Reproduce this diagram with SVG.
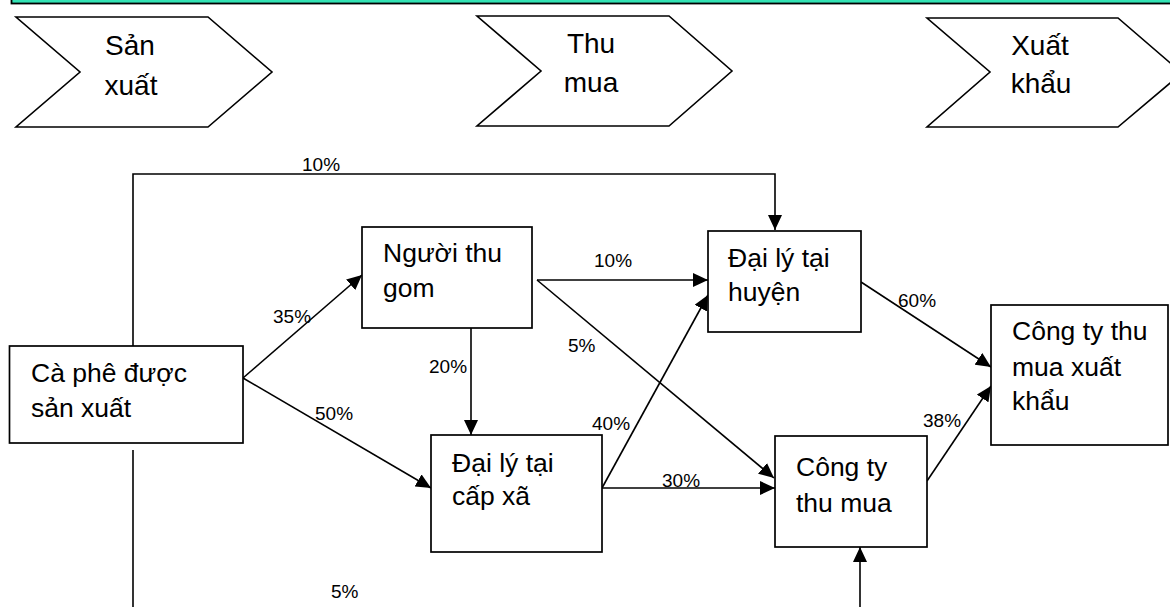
<svg xmlns="http://www.w3.org/2000/svg" width="1170" height="607" viewBox="0 0 1170 607">
<style>
.box{fill:#fff;stroke:#000;stroke-width:1.7}
.chev{fill:#fff;stroke:#000;stroke-width:1.6}
.ct{font-family:"Liberation Sans",Arial,sans-serif;font-size:28px;fill:#000;text-anchor:middle}
.nt{font-family:"Liberation Sans",Arial,sans-serif;font-size:26.5px;fill:#000}
.lb{font-family:"Liberation Sans",Arial,sans-serif;font-size:19px;fill:#000}
.ln{fill:none;stroke:#000;stroke-width:1.6}
.ar{marker-end:url(#ah)}
</style>
<defs>
<marker id="ah" markerUnits="userSpaceOnUse" markerWidth="15" markerHeight="14" refX="15" refY="7" orient="auto" viewBox="0 0 15 14">
<path d="M0,0 L15,7 L0,14 z" fill="#000"/>
</marker>
</defs>
<g id="banner">
<rect x="11.5" y="-10" width="1170" height="13.5" fill="#33E3B5" stroke="#000" stroke-width="1.8"/>
</g>
<g id="stage-sanxuat">
<polygon class="chev" points="16,17 208,17 272,72 208,127 16,127 80,72"/>
<text class="ct" x="130" y="55">Sản</text>
<text class="ct" x="131" y="95">xuất</text>
</g>
<g id="stage-thumua">
<polygon class="chev" points="477,16 669,16 732,71 669,126 477,126 541,71"/>
<text class="ct" x="591" y="53">Thu</text>
<text class="ct" x="591" y="92">mua</text>
</g>
<g id="stage-xuatkhau">
<polygon class="chev" points="927,18 1118,18 1182,73 1118,127 927,127 990,72"/>
<text class="ct" x="1040" y="55">Xuất</text>
<text class="ct" x="1041" y="93">khẩu</text>
</g>
<g id="connectors">
<polyline class="ln ar" points="133,346 133,174 775,174 775,230"/>
<line class="ln ar" x1="243" y1="378" x2="362" y2="275"/>
<line class="ln ar" x1="243" y1="378" x2="431" y2="488"/>
<line class="ln ar" x1="471" y1="328" x2="471" y2="435"/>
<line class="ln ar" x1="537" y1="280" x2="708" y2="280"/>
<line class="ln ar" x1="537" y1="280" x2="774" y2="478"/>
<line class="ln ar" x1="602" y1="488" x2="708" y2="295"/>
<line class="ln ar" x1="602" y1="488" x2="775" y2="488"/>
<line class="ln ar" x1="861" y1="282" x2="991" y2="367"/>
<line class="ln ar" x1="927" y1="481" x2="991" y2="386"/>
<line class="ln" x1="133" y1="450" x2="133" y2="607"/>
<line class="ln ar" x1="860" y1="607" x2="860" y2="547"/>
<text class="lb" x="302" y="171">10%</text>
<text class="lb" x="273" y="323">35%</text>
<text class="lb" x="315" y="420">50%</text>
<text class="lb" x="429" y="373">20%</text>
<text class="lb" x="594" y="267">10%</text>
<text class="lb" x="568" y="352">5%</text>
<text class="lb" x="592" y="430">40%</text>
<text class="lb" x="662" y="487">30%</text>
<text class="lb" x="898" y="307">60%</text>
<text class="lb" x="923" y="427">38%</text>
<text class="lb" x="331" y="598">5%</text>
</g>
<g id="node-caphe">
<rect class="box" x="9.5" y="346" width="233.5" height="97"/>
<text class="nt" x="31" y="382">Cà phê được</text>
<text class="nt" x="31" y="417">sản xuất</text>
</g>
<g id="node-nguoithugom">
<rect class="box" x="362" y="227" width="170" height="101"/>
<text class="nt" x="383" y="262">Người thu</text>
<text class="nt" x="383" y="297">gom</text>
</g>
<g id="node-dailyhuyen">
<rect class="box" x="708" y="231" width="153" height="101"/>
<text class="nt" x="728" y="267">Đại lý tại</text>
<text class="nt" x="728" y="301">huyện</text>
</g>
<g id="node-congtyxuatkhau">
<rect class="box" x="991" y="305" width="177" height="140"/>
<text class="nt" x="1012" y="340">Công ty thu</text>
<text class="nt" x="1012" y="376">mua xuất</text>
<text class="nt" x="1012" y="410">khẩu</text>
</g>
<g id="node-dailyxa">
<rect class="box" x="431" y="435" width="171" height="117"/>
<text class="nt" x="452" y="472">Đại lý tại</text>
<text class="nt" x="452" y="505">cấp xã</text>
</g>
<g id="node-congtythumua">
<rect class="box" x="775" y="436" width="152" height="111"/>
<text class="nt" x="796" y="476">Công ty</text>
<text class="nt" x="796" y="512">thu mua</text>
</g>
</svg>
